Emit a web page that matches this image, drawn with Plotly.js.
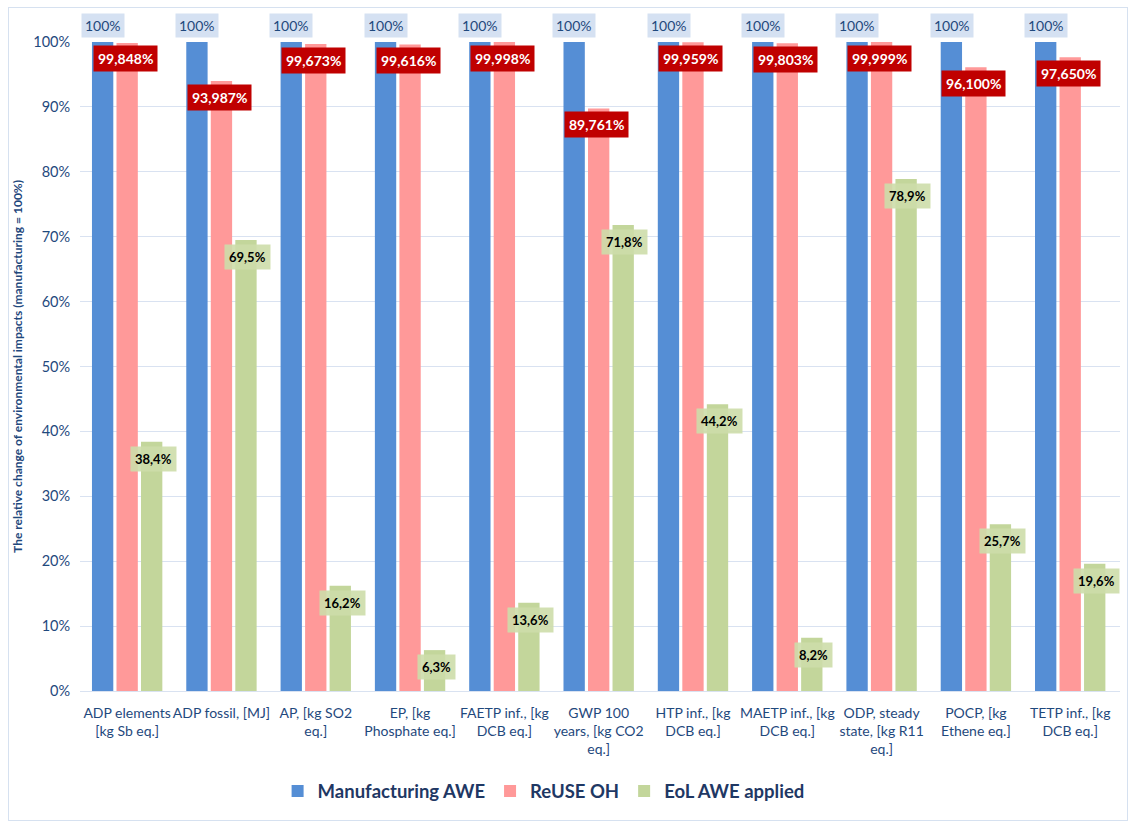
<!DOCTYPE html>
<html><head><meta charset="utf-8">
<script src="https://cdn.plot.ly/plotly-3.0.1.min.js"></script>
<style>
html,body{margin:0;padding:0;background:#fff;}
#chart{position:absolute;left:8px;top:7px;width:1118px;height:812px;border:1px solid #d6e1f0;}
</style></head>
<body><div id="chart"></div>
<script>
const categories = ["ADP elements<br>[kg Sb eq.]","ADP fossil, [MJ]","AP, [kg SO2<br>eq.]","EP, [kg<br>Phosphate eq.]","FAETP inf., [kg<br>DCB eq.]","GWP 100<br>years, [kg CO2<br>eq.]","HTP inf., [kg<br>DCB eq.]","MAETP inf., [kg<br>DCB eq.]","ODP, steady<br>state, [kg R11<br>eq.]","POCP, [kg<br>Ethene eq.]","TETP inf., [kg<br>DCB eq.]"];
const manufacturing = [100,100,100,100,100,100,100,100,100,100,100];
const reuse = [99.848,93.987,99.673,99.616,99.998,89.761,99.959,99.803,99.999,96.100,97.650];
const eol = [38.4,69.5,16.2,6.3,13.6,71.8,44.2,8.2,78.9,25.7,19.6];
const seriesNames = ["Manufacturing AWE","ReUSE OH","EoL AWE applied"];
const yTicks = [0,10,20,30,40,50,60,70,80,90,100];

const fmt = (v, d) => v.toFixed(d).replace('.', ',') + '%';
const FONT = 'Lato, "Open Sans", sans-serif';
const TXT = '#1F497D';

const traces = [
  {type:'bar', name:seriesNames[0], x:categories, y:manufacturing, marker:{color:'#558ED5'}},
  {type:'bar', name:seriesNames[1], x:categories, y:reuse, marker:{color:'#FF9999'}},
  {type:'bar', name:seriesNames[2], x:categories, y:eol, marker:{color:'#C3D69B'}}
];

const slot = 24.3;
const ann = [];
categories.forEach((c,i)=>{
  ann.push({x:c, y:manufacturing[i], xref:'x', yref:'y', text:fmt(manufacturing[i],0).replace(',0',''), showarrow:false,
    xshift:-slot, yshift:17, bgcolor:'#D5E1F2', borderpad:3,
    font:{family:FONT, size:14, color:TXT}});
  ann.push({x:c, y:reuse[i], xref:'x', yref:'y', text:'<b>'+fmt(reuse[i],3)+'</b>', showarrow:false,
    xshift:-2, yshift:-16, bgcolor:'#C00000', borderpad:4,
    font:{family:FONT, size:14, color:'#ffffff'}});
  ann.push({x:c, y:eol[i], xref:'x', yref:'y', text:'<b>'+fmt(eol[i],1)+'</b>', showarrow:false,
    xshift:slot+2, yshift:-17, bgcolor:'rgba(205,221,170,0.9)', borderpad:4,
    font:{family:FONT, size:13, color:'#000000'}});
});

const layout = {
  width:1118, height:812,
  margin:{l:71, r:7, t:34, b:129},
  paper_bgcolor:'#ffffff', plot_bgcolor:'#ffffff',
  barmode:'group', bargap:0.22, bargroupgap:0.13,
  font:{family:FONT, color:TXT},
  xaxis:{type:'category', tickangle:0, tickfont:{family:FONT, size:14, color:TXT}, showgrid:false, zeroline:false,
    showline:false, ticks:'outside', ticklen:9, tickcolor:'rgba(0,0,0,0)', automargin:false},
  yaxis:{range:[0,100], tickvals:yTicks, ticktext:yTicks.map(v=>v+'%'), showgrid:true, gridcolor:'#D9E2F1', gridwidth:1,
    zeroline:true, zerolinecolor:'#D9E2F1', tickfont:{family:FONT, size:14.5, color:TXT}, ticks:'outside', ticklen:6, tickcolor:'rgba(0,0,0,0)',
    title:{text:'<b>The relative change of environmental impacts (manufacturing = 100%)</b>', font:{family:FONT, size:12, color:TXT}, standoff:8},
    automargin:false},
  showlegend:true,
  legend:{orientation:'h', x:0.19, xanchor:'left', y:-0.155, yanchor:'middle',
    font:{family:FONT, size:18.5, color:'#1F3864', weight:'bold'}, traceorder:'normal', itemwidth:30},
  annotations:ann
};
Plotly.newPlot('chart', traces, layout, {displayModeBar:false, staticPlot:true});
</script></body></html>
